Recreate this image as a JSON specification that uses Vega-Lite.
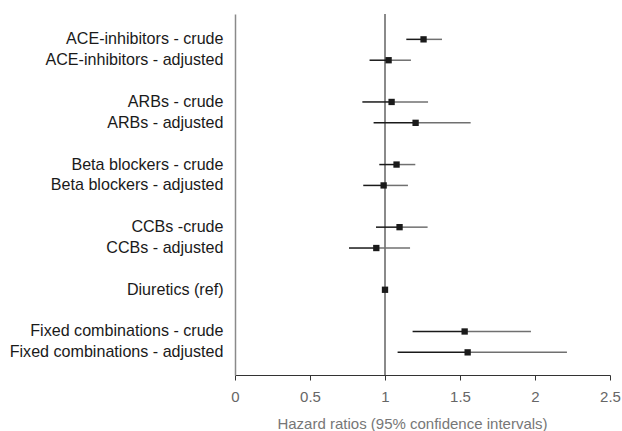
{
  "$schema": "https://vega.github.io/schema/vega-lite/v6.json",
  "width": 375,
  "height": 361,
  "autosize": {"type": "none"},
  "padding": {"left": 235, "top": 14, "right": 12, "bottom": 56},
  "config": {"view": {"stroke": null}, "font": "Liberation Sans"},
  "data": {
    "values": [
      {"label": "ACE-inhibitors - crude", "est": 1.257, "low": 1.142, "high": 1.38},
      {"label": "ACE-inhibitors - adjusted", "est": 1.024, "low": 0.897, "high": 1.173},
      {"label": "ARBs - crude", "est": 1.044, "low": 0.849, "high": 1.287},
      {"label": "ARBs - adjusted", "est": 1.204, "low": 0.924, "high": 1.571},
      {"label": "Beta blockers - crude", "est": 1.077, "low": 0.962, "high": 1.202},
      {"label": "Beta blockers - adjusted", "est": 0.991, "low": 0.855, "high": 1.153},
      {"label": "CCBs -crude", "est": 1.097, "low": 0.94, "high": 1.284},
      {"label": "CCBs - adjusted", "est": 0.942, "low": 0.76, "high": 1.167},
      {"label": "Diuretics (ref)", "est": 1.0, "low": 1.0, "high": 1.0},
      {"label": "Fixed combinations - crude", "est": 1.531, "low": 1.184, "high": 1.973},
      {"label": "Fixed combinations - adjusted", "est": 1.551, "low": 1.084, "high": 2.213}
    ]
  },
  "layer": [
    {
      "mark": {"type": "rule", "color": "#8a8a8a", "strokeWidth": 1.5},
      "encoding": {
        "x": {
          "datum": 1,
          "type": "quantitative",
          "scale": {"domain": [0, 2.5], "nice": false},
          "axis": {
            "values": [0, 0.5, 1, 1.5, 2, 2.5],
            "format": "~g",
            "grid": false,
            "labelFlush": false,
            "domainColor": "#333333",
            "domainWidth": 1.2,
            "tickColor": "#333333",
            "tickSize": 5,
            "labelColor": "#666666",
            "labelFontSize": 15,
            "labelPadding": 9,
            "title": "Hazard ratios (95% confidence intervals)",
            "titleColor": "#777777",
            "titleFontSize": 15,
            "titleFontWeight": "normal",
            "titlePadding": 12,
            "titleX": 177
          }
        }
      }
    },
    {
      "mark": {"type": "rule", "color": "#1a1a1a", "strokeWidth": 1.5},
      "encoding": {
        "x": {"field": "low", "type": "quantitative"},
        "x2": {"field": "est"},
        "y": {
          "field": "label",
          "type": "nominal",
          "scale": {
            "domain": ["ACE-inhibitors - crude", "ACE-inhibitors - adjusted", " ", "ARBs - crude", "ARBs - adjusted", "  ", "Beta blockers - crude", "Beta blockers - adjusted", "   ", "CCBs -crude", "CCBs - adjusted", "    ", "Diuretics (ref)", "     ", "Fixed combinations - crude", "Fixed combinations - adjusted"],
            "paddingInner": 0,
            "paddingOuter": 0.65,
            "align": 0.55
          },
          "axis": {
            "title": null,
            "ticks": false,
            "domainColor": "#8a8a8a",
            "domainWidth": 1.5,
            "labelColor": "#1a1a1a",
            "labelFontSize": 16.1,
            "labelPadding": 12,
            "labelLimit": 400
          }
        }
      }
    },
    {
      "mark": {"type": "rule", "color": "#707070", "strokeWidth": 1.5},
      "encoding": {
        "x": {"field": "est", "type": "quantitative"},
        "x2": {"field": "high"},
        "y": {"field": "label", "type": "nominal"}
      }
    },
    {
      "mark": {"type": "square", "filled": true, "color": "#1a1a1a", "size": 40, "opacity": 1},
      "encoding": {
        "x": {"field": "est", "type": "quantitative"},
        "y": {"field": "label", "type": "nominal"}
      }
    }
  ]
}
